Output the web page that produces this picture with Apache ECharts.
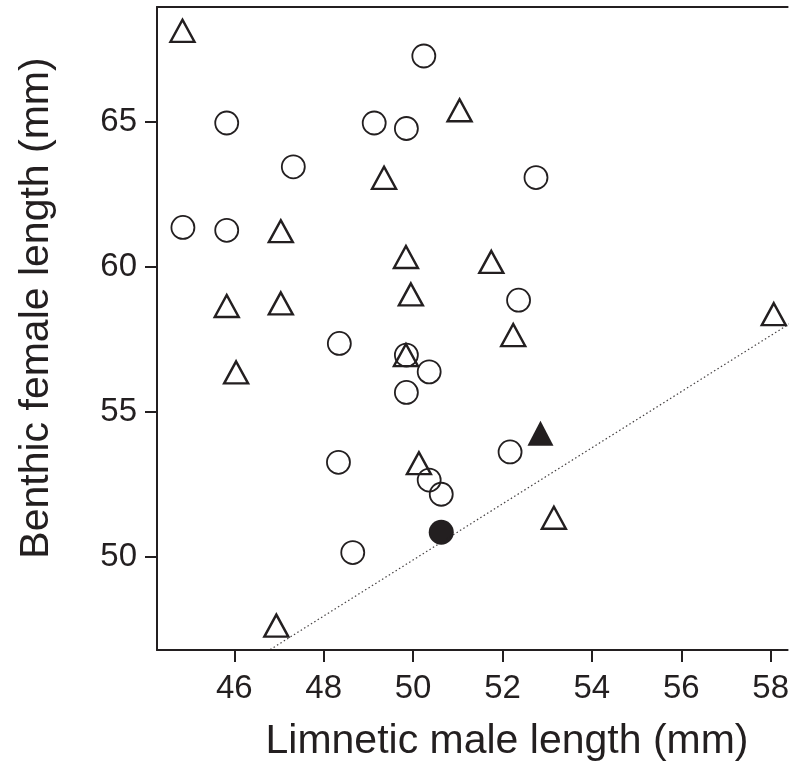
<!DOCTYPE html>
<html lang="en">
<head>
    <meta charset="UTF-8" />
    <title>Benthic female vs limnetic male length</title>
    <script src="https://cdn.jsdelivr.net/npm/echarts@6/dist/echarts.min.js"></script>
    <style>
        body { margin: 0; background: #fff; }
        #chart { width: 792px; height: 769px; }
    </style>
</head>
<body>
    <div id="chart"></div>
    <script>
        // open circles [limnetic male, benthic female]
        const openCircles = [
            [50.24, 67.27], [45.83, 64.96], [49.13, 64.96], [49.85, 64.77],
            [47.32, 63.45], [52.75, 63.08], [44.85, 61.36], [45.83, 61.26],
            [52.36, 58.85], [48.35, 57.36], [49.85, 56.96], [50.36, 56.38],
            [49.85, 55.67], [52.17, 53.62], [48.33, 53.26], [50.36, 52.65],
            [50.63, 52.16], [48.65, 50.15]
        ];
        // open triangles
        const openTriangles = [
            [44.84, 68.14], [51.04, 65.40], [49.35, 63.07], [47.04, 61.23],
            [49.84, 60.34], [51.75, 60.17], [45.83, 58.65], [47.04, 58.74],
            [49.95, 59.05], [58.07, 58.37], [52.24, 57.65], [49.84, 56.96],
            [46.04, 56.36], [50.13, 53.23], [53.15, 51.35], [46.94, 47.63]
        ];
        const filledTriangle = [[52.85, 54.26]];
        const filledCircle = [[50.63, 50.85]];
        // dotted reference line end points
        const refLine = [[46.5, 46.51], [58.6, 58.21]];

        const xTicks = [46, 48, 50, 52, 54, 56, 58];
        const yTicks = [50, 55, 60, 65];

        const ink = '#231f20';
        const font = "'Liberation Sans', Arial, sans-serif";

        const chart = echarts.init(document.getElementById('chart'));

        const axisCommon = {
            type: 'value',
            splitLine: { show: false },
            axisLine: { show: true, lineStyle: { color: ink, width: 2 } },
            axisTick: { show: true, length: 12, lineStyle: { color: ink, width: 2 } }
        };

        chart.setOption({
            animation: false,
            grid: { left: 157, right: 0, top: 7, bottom: 119 },
            xAxis: [
                Object.assign({}, axisCommon, {
                    min: 44.27,
                    max: 58.38,
                    axisTick: Object.assign({}, axisCommon.axisTick, { customValues: xTicks }),
                    axisLabel: {
                        customValues: xTicks,
                        margin: 22,
                        fontSize: 33,
                        fontFamily: font,
                        color: ink
                    }
                }),
                {
                    type: 'value', position: 'top', min: 44.27, max: 58.38,
                    axisLine: { show: true, lineStyle: { color: ink, width: 2 } },
                    axisTick: { show: false }, axisLabel: { show: false }, splitLine: { show: false }
                }
            ],
            yAxis: Object.assign({}, axisCommon, {
                min: 46.79,
                max: 68.96,
                axisTick: Object.assign({}, axisCommon.axisTick, { customValues: yTicks }),
                axisLabel: {
                    customValues: yTicks,
                    margin: 20,
                    fontSize: 33,
                    fontFamily: font,
                    color: ink
                }
            }),
            graphic: [
                {
                    type: 'text', x: 507, y: 742,
                    style: {
                        text: 'Limnetic male length (mm)',
                        font: '41px ' + font, fill: ink,
                        textAlign: 'center', textVerticalAlign: 'middle'
                    }
                },
                {
                    type: 'text', x: 37, y: 308, rotation: Math.PI / 2,
                    style: {
                        text: 'Benthic female length (mm)',
                        font: '41px ' + font, fill: ink,
                        textAlign: 'center', textVerticalAlign: 'middle'
                    }
                }
            ],
            series: [
                {
                    type: 'line', data: refLine, symbol: 'none', clip: true,
                    lineStyle: { color: ink, width: 1.2, type: [1.5, 2.5], opacity: 0.85 }
                },
                {
                    type: 'scatter', data: openCircles, symbol: 'circle', symbolSize: 23,
                    itemStyle: { color: 'rgba(0,0,0,0)', borderColor: ink, borderWidth: 1.8, opacity: 1 }
                },
                {
                    type: 'scatter', data: openTriangles, symbol: 'triangle', symbolSize: [24, 22],
                    itemStyle: { color: 'rgba(0,0,0,0)', borderColor: ink, borderWidth: 2.4, opacity: 1 }
                },
                {
                    type: 'scatter', data: filledTriangle, symbol: 'triangle', symbolSize: [26, 25],
                    itemStyle: { color: ink, opacity: 1 }
                },
                {
                    type: 'scatter', data: filledCircle, symbol: 'circle', symbolSize: 25,
                    itemStyle: { color: ink, opacity: 1 }
                }
            ]
        });
    </script>
</body>
</html>
